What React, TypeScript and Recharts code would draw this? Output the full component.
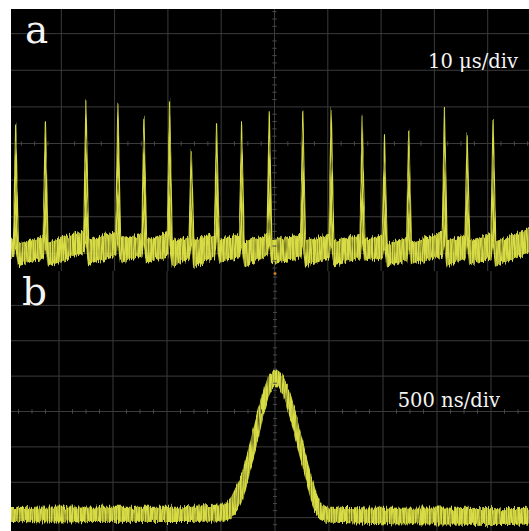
import React from "react";
import { Area, CartesianGrid, ComposedChart, ReferenceDot, ReferenceLine, XAxis, YAxis } from "recharts";

// panel a: pulse train, 10 us/div, amplitude in divisions
const pulseTimes = [1.44, 7.01, 14.62, 20.62, 25.5, 30.31, 34.38, 39.13, 43.82, 49.01, 55.31, 60.63, 66.45, 70.63, 75.19, 81.88, 86.14, 91.01];
const pulsePeaks = [0.57, 0.61, 1.2, 1.11, 0.7, 1.2, -0.16, 0.55, 0.55, 0.88, 0.88, 0.97, 0.74, 0.25, 0.4, 0.95, 0.25, 0.64];
const bandBeforeHi = [-2.56, -2.53, -2.39, -2.43, -2.48, -2.43, -2.53, -2.48, -2.48, -2.48, -2.48, -2.48, -2.48, -2.53, -2.57, -2.44, -2.53, -2.48];
const bandBeforeLo = [-3.11, -3.12, -2.97, -3.07, -3.07, -3.07, -3.16, -3.12, -3.12, -3.07, -3.12, -3.12, -3.12, -3.12, -3.21, -3.07, -3.12, -3.12];
const bandAfterHi = [-2.75, -2.7, -2.62, -2.62, -2.66, -2.66, -2.62, -2.62, -2.7, -2.66, -2.66, -2.66, -2.62, -2.75, -2.71, -2.66, -2.66, -2.66];
const bandAfterLo = [-3.34, -3.34, -3.3, -3.21, -3.25, -3.34, -3.38, -3.21, -3.34, -3.25, -3.34, -3.34, -3.21, -3.34, -3.3, -3.34, -3.3, -3.34];
const trainStart = 0.5;
const trainEnd = 97.7;
const trainEndBand = [-2.98, -2.35];

// panel b: single pulse, 500 ns/div
const gaussTimes = [-2450, -2000, -1450, -900, -460, -400, -345, -295, -250, -205, -155, -110, -65, -30, 10, 45, 95, 140, 185, 230, 280, 325, 370, 415, 470, 970, 1530, 2080, 2360];
const gaussHi = [-2.72, -2.7, -2.71, -2.7, -2.64, -2.41, -2.07, -1.68, -1.17, -0.57, 0.02, 0.53, 0.93, 1.1, 1.18, 1.1, 0.87, 0.5, 0.02, -0.55, -1.17, -1.74, -2.24, -2.58, -2.7, -2.74, -2.73, -2.75, -2.74];
const gaussLo = [-3.11, -3.12, -3.1, -3.11, -3.09, -2.98, -2.75, -2.41, -1.9, -1.34, -0.72, -0.09, 0.42, 0.64, 0.75, 0.64, 0.36, -0.15, -0.66, -1.23, -1.79, -2.36, -2.81, -3.03, -3.12, -3.17, -3.18, -3.19, -3.18];

const divTicksA = [0, 10, 20, 30, 40, 50, 60, 70, 80, 90, 100];
const divTicksB = [-2500, -2000, -1500, -1000, -500, 0, 500, 1000, 1500, 2000, 2500];
const divTicksY = [-4, -3, -2, -1, 0, 1, 2, 3, 4];

const trainData = (() => {
  const rows: { t: number; band: number[] }[] = [{ t: trainStart, band: [bandBeforeLo[0], bandBeforeHi[0]] }];
  pulseTimes.forEach((t, i) => {
    rows.push({ t: t - 0.4, band: [bandBeforeLo[i], bandBeforeHi[i]] });
    rows.push({ t, band: [bandAfterHi[i], pulsePeaks[i]] });
    rows.push({ t: t + 0.5, band: [bandAfterLo[i], bandAfterHi[i]] });
  });
  rows.push({ t: trainEnd, band: trainEndBand });
  return rows;
})();

const pulseData = gaussTimes.map((t, i) => ({ t, band: [gaussLo[i], gaussHi[i]] }));

// minor ticks on the centre cross: 4 per div horizontally, 5 per div vertically
const minorY = Array.from({ length: 41 }, (_, i) => -4 + i * 0.2).filter((v) => Math.abs(v - Math.round(v)) > 0.01);
const minorXA = Array.from({ length: 41 }, (_, i) => i * 2.5).filter((v) => v % 10 !== 0);
const minorXB = Array.from({ length: 41 }, (_, i) => -2500 + i * 125).filter((v) => v % 500 !== 0);

const GRID = "#3b3b3b";
const TICK = "#4a4a4a";
const TRACE = "#d8dc44";

export default function App() {
  const serif = '"DejaVu Serif", "Liberation Serif", "Noto Serif", "Times New Roman", serif';
  const label = { fill: "#f4f4f4", fontFamily: serif } as React.CSSProperties;
  return (
    <div style={{ position: "fixed", left: 0, top: 0, width: 529, height: 531, background: "#fff", overflow: "hidden" }}>
      <style>{`.trace-fx { filter: url(#grain); }`}</style>
      <svg width={0} height={0} style={{ position: "absolute" }}>
        <defs>
          <filter id="grain" x="-5%" y="-20%" width="110%" height="140%">
            <feTurbulence type="fractalNoise" baseFrequency="0.8 0.04" numOctaves={2} seed={3} result="n" />
            <feColorMatrix in="n" type="matrix" values="0 0 0 0 0.5  0 1 0 0 0  0 0 0 0 0  0 0 0 0 1" result="m" />
            <feDisplacementMap in="SourceGraphic" in2="m" scale={9} xChannelSelector="R" yChannelSelector="G" result="d" />
            <feTurbulence type="fractalNoise" baseFrequency="0.9 0.05" numOctaves={1} seed={11} result="s" />
            <feColorMatrix in="s" type="matrix" values="0 0 0 0 0  0 0 0 0 0  0 0 0 0 0  0 1.6 0 0 0.15" result="sa" />
            <feComposite in="d" in2="sa" operator="in" />
          </filter>
        </defs>
      </svg>
      <div style={{ position: "absolute", left: 11, top: 9, width: 518, height: 522, background: "#000", overflow: "hidden" }}>
        <div style={{ position: "absolute", left: 0, top: 0, width: 518, height: 262, overflow: "hidden" }}>
          <div style={{ position: "absolute", left: -2.67, top: -11.7 }}>
            <ComposedChart width={533} height={293} data={trainData} margin={{ top: 0, right: 0, bottom: 0, left: 0 }}>
              <XAxis type="number" dataKey="t" domain={[0, 100]} ticks={divTicksA} hide allowDataOverflow />
              <YAxis type="number" domain={[-4, 4]} ticks={divTicksY} hide allowDataOverflow />
              <CartesianGrid stroke={GRID} strokeWidth={1} />
              {minorXA.map((t) => (
                <ReferenceLine key={"xa" + t} segment={[{ x: t, y: -0.06 }, { x: t, y: 0.06 }]} stroke={TICK} />
              ))}
              {minorY.map((v) => (
                <ReferenceLine key={"ya" + v} segment={[{ x: 49.6, y: v }, { x: 50.4, y: v }]} stroke={TICK} />
              ))}
              <Area
                className="trace-fx"
                type="linear"
                dataKey="band"
                stroke={TRACE}
                strokeWidth={1.2}
                fill={TRACE}
                fillOpacity={1}
                dot={false}
                activeDot={false}
                isAnimationActive={false}
              />
            </ComposedChart>
          </div>
        </div>
        <div style={{ position: "absolute", left: 0, top: 262, width: 518, height: 260, overflow: "hidden" }}>
          <div style={{ position: "absolute", left: -6, top: -1.5 }}>
            <ComposedChart width={540} height={283} data={pulseData} margin={{ top: 0, right: 0, bottom: 0, left: 0 }}>
              <XAxis type="number" dataKey="t" domain={[-2500, 2500]} ticks={divTicksB} hide allowDataOverflow />
              <YAxis type="number" domain={[-4, 4]} ticks={divTicksY} hide allowDataOverflow />
              <CartesianGrid stroke={GRID} strokeWidth={1} />
              {minorXB.map((t) => (
                <ReferenceLine key={"xb" + t} segment={[{ x: t, y: -0.06 }, { x: t, y: 0.06 }]} stroke={TICK} />
              ))}
              {minorY.map((v) => (
                <ReferenceLine key={"yb" + v} segment={[{ x: -18, y: v }, { x: 18, y: v }]} stroke={TICK} />
              ))}
              <ReferenceDot x={0} y={3.9} r={1.5} fill="#c8782a" stroke="none" />
              <Area
                className="trace-fx"
                type="linear"
                dataKey="band"
                stroke={TRACE}
                strokeWidth={1.2}
                fill={TRACE}
                fillOpacity={1}
                dot={false}
                activeDot={false}
                isAnimationActive={false}
              />
            </ComposedChart>
          </div>
        </div>
      </div>
      <svg width={529} height={531} style={{ position: "absolute", left: 0, top: 0, pointerEvents: "none" }}>
        <text x={25} y={43} style={{ ...label, fontSize: 39 }}>a</text>
        <text x={22} y={305} style={{ ...label, fontSize: 39 }}>b</text>
        <text x={518} y={68} textAnchor="end" style={{ ...label, fontSize: 19.5 }}>10 μs/div</text>
        <text x={500} y={407} textAnchor="end" style={{ ...label, fontSize: 19.5 }}>500 ns/div</text>
      </svg>
    </div>
  );
}
